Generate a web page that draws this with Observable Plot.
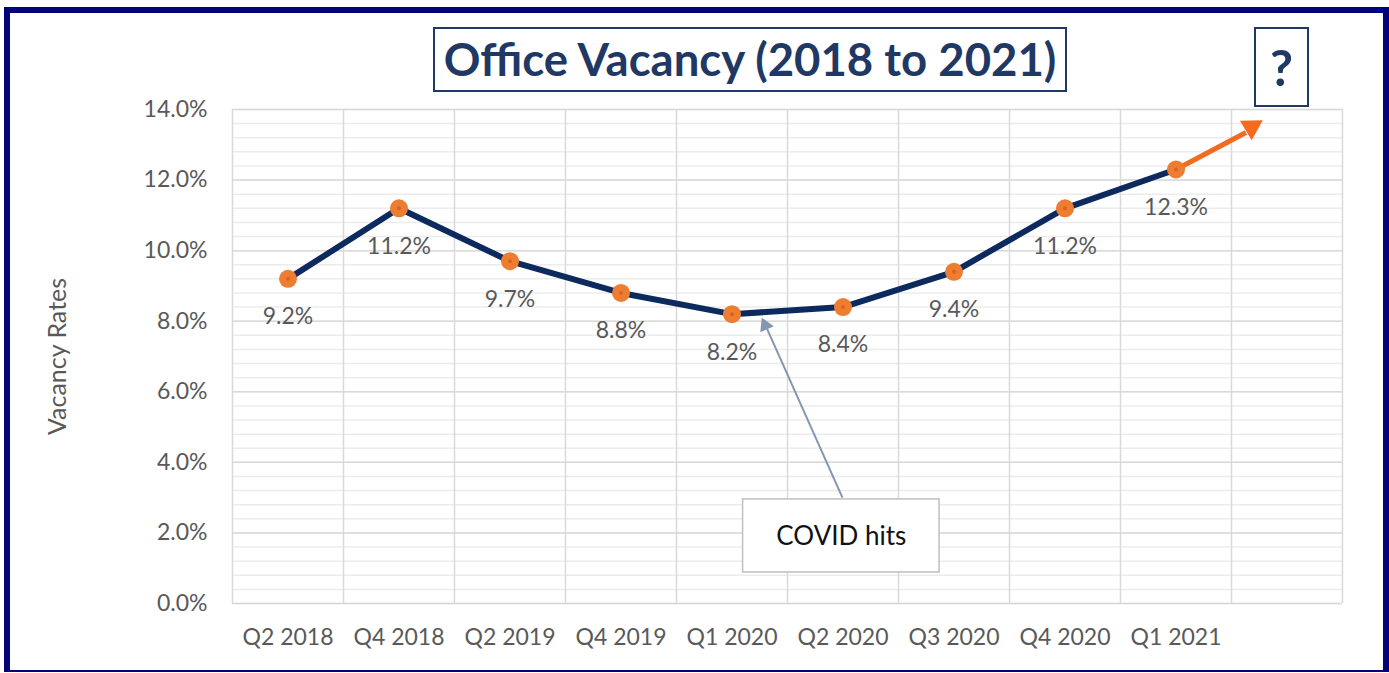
<!DOCTYPE html>
<html>
<head>
<meta charset="utf-8">
<script src="https://cdn.jsdelivr.net/npm/d3@7"></script>
<script src="https://cdn.jsdelivr.net/npm/@observablehq/plot@0.6"></script>
<style>
  html, body { margin: 0; padding: 0; background: #fff; }
  #wrap { position: relative; width: 1389px; height: 673px; overflow: hidden; background: #fff; }
  #chart { position: absolute; left: 0; top: 0; }
  .frame { position: absolute; left: 4px; top: 7px; width: 1385px; height: 665px; box-sizing: border-box;
           border-style: solid; border-color: #03037a; border-width: 6px 6px 2px 6px; }
  .box { position: absolute; box-sizing: border-box; border: 2px solid #1f3864; color: #1f3864;
         font-family: Lato, sans-serif; font-weight: 700; display: flex; align-items: center; justify-content: center;
         background: #fff; }
  .title { left: 433px; top: 27px; width: 634px; height: 65px; font-size: 45.5px; padding-bottom: 2px; }
  .q { left: 1254px; top: 27px; width: 55px; height: 80px; font-size: 50px; }
</style>
</head>
<body>
<div id="wrap">
  <div id="chart"></div>
  <div class="frame"></div>
  <div class="box title">Office Vacancy (2018 to 2021)</div>
  <div class="box q">?</div>
</div>
<script>
// ---- data ----
const quarters = ["Q2 2018", "Q4 2018", "Q2 2019", "Q4 2019", "Q1 2020", "Q2 2020", "Q3 2020", "Q4 2020", "Q1 2021"];
const vacancy = [9.2, 11.2, 9.7, 8.8, 8.2, 8.4, 9.4, 11.2, 12.3];
const yTicks = [0, 2, 4, 6, 8, 10, 12, 14];
const slotCount = 10; // 9 quarters + one empty slot for the projection arrow

// annotation geometry in data units (slot index, percent)
const projectionArrow = [{x1: 8.5, y1: 12.3, x2: 9.13, y2: 13.35}];
const projectionHead = [{x: 9.18, y: 13.5}];
const covidArrow = [{x1: 5.495, y1: 3.0, x2: 4.816, y2: 7.785}];
const covidHead = [{x: 4.8, y: 7.88}];
const covidBox = [{x1: 4.6, x2: 6.37, y1: 0.88, y2: 2.95}];
const covidLabel = [{x: 5.485, y: 1.9, text: "COVID hits"}];

// ---- derived ----
const rows = quarters.map((q, i) => ({q, x: i + 0.5, v: vacancy[i]}));
const xCenters = rows.map(d => d.x);
const xEdges = d3.range(0, slotCount + 1);
const minorTicks = d3.range(0, 36).map(i => i * 0.4);

const chart = Plot.plot({
  width: 1389,
  height: 673,
  marginLeft: 232,
  marginRight: 47,
  marginTop: 109,
  marginBottom: 70,
  style: {fontFamily: "Lato, sans-serif", fontSize: "23px", color: "#595959", background: "transparent"},
  x: {type: "linear", domain: [0, slotCount]},
  y: {domain: [0, 14]},
  marks: [
    Plot.ruleY(minorTicks, {stroke: "#ececec", strokeWidth: 1.5}),
    Plot.ruleY(yTicks, {stroke: "#d9d9d9", strokeWidth: 1.5}),
    Plot.ruleX(xEdges, {stroke: "#d9d9d9", strokeWidth: 1.5}),
    Plot.axisY({ticks: yTicks, tickSize: 0, tickPadding: 25, fontSize: 23,
                tickFormat: d => d.toFixed(1) + "%", label: null}),
    Plot.axisX({ticks: xCenters, tickSize: 0, tickPadding: 25, fontSize: 23,
                tickFormat: d => quarters[Math.floor(d)], label: null}),
    Plot.text(["Vacancy Rates"], {frameAnchor: "left", rotate: -90, dx: -175, textAnchor: "middle",
                fontSize: 25, fill: "#595959"}),
    Plot.link(projectionArrow, {x1: "x1", y1: "y1", x2: "x2", y2: "y2", stroke: "#f26b21", strokeWidth: 5}),
    Plot.dot(projectionHead, {x: "x", y: "y", symbol: "triangle", r: 8.5, fill: "#f26b21", rotate: 59}),
    Plot.line(rows, {x: "x", y: "v", stroke: "#0d2a5f", strokeWidth: 6}),
    Plot.dot(rows, {x: "x", y: "v", r: 9, fill: "#ed7d31"}),
    Plot.dot(rows, {x: "x", y: "v", r: 2, fill: "#e0601c"}),
    Plot.text(rows, {x: "x", y: "v", text: d => d.v.toFixed(1) + "%", dy: 38, fontSize: 23, fill: "#595959"}),
    Plot.link(covidArrow, {x1: "x1", y1: "y1", x2: "x2", y2: "y2", stroke: "#8497b0", strokeWidth: 2}),
    Plot.dot(covidHead, {x: "x", y: "y", symbol: "triangle", r: 5.5, fill: "#8497b0", rotate: -24}),
    Plot.rect(covidBox, {x1: "x1", x2: "x2", y1: "y1", y2: "y2", fill: "#fff", stroke: "#bfbfbf", strokeWidth: 1.5}),
    Plot.text(covidLabel, {x: "x", y: "y", text: "text", fontSize: 26, fill: "#111"})
  ]
});
document.getElementById("chart").appendChild(chart);
</script>
</body>
</html>
